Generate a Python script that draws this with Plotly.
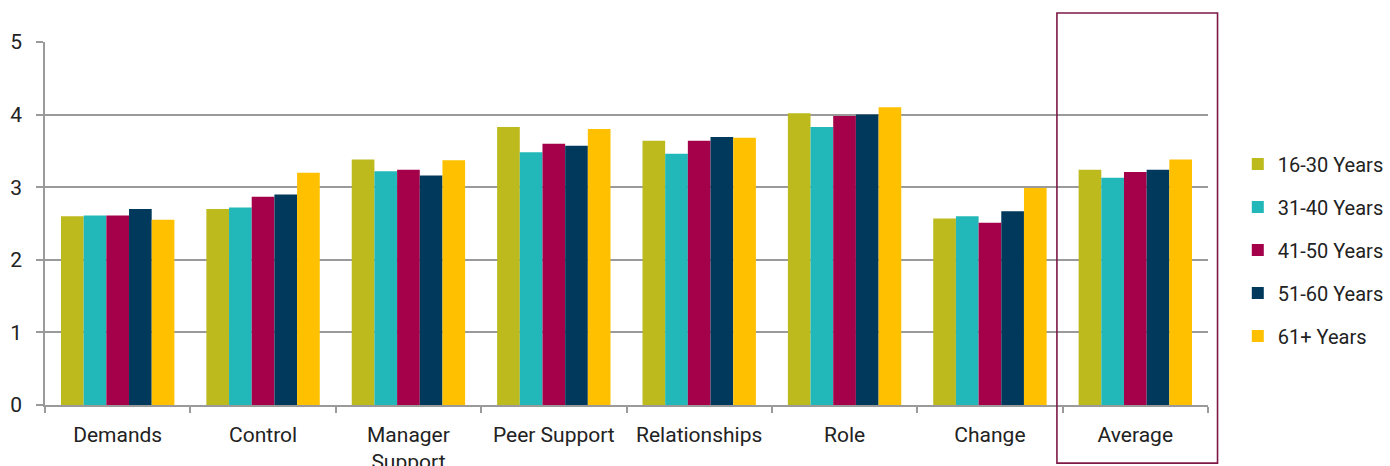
import plotly.graph_objects as go

categories = ["Demands", "Control", "Manager<br>Support", "Peer Support",
              "Relationships", "Role", "Change", "Average"]
age_groups = ["16-30 Years", "31-40 Years", "41-50 Years", "51-60 Years", "61+ Years"]

years_16_30 = [2.60, 2.70, 3.38, 3.83, 3.64, 4.02, 2.57, 3.24]
years_31_40 = [2.61, 2.72, 3.22, 3.48, 3.46, 3.83, 2.60, 3.13]
years_41_50 = [2.61, 2.87, 3.24, 3.60, 3.64, 3.98, 2.51, 3.21]
years_51_60 = [2.70, 2.90, 3.16, 3.57, 3.69, 4.00, 2.67, 3.24]
years_61_plus = [2.55, 3.20, 3.37, 3.80, 3.68, 4.10, 2.99, 3.38]

series = [years_16_30, years_31_40, years_41_50, years_51_60, years_61_plus]
colors = ["#BDBA1E", "#22B7B8", "#A5004A", "#00395B", "#FFC000"]

font_family = "Roboto, Noto Sans, sans-serif"
text_color = "#222222"
grid_color = "#9A9A9A"

fig = go.Figure()
for name, values, color in zip(age_groups, series, colors):
    fig.add_trace(go.Bar(
        x=categories, y=values, name=name,
        marker=dict(color=color, line=dict(width=0)),
        legendgroup=name,
    ))

# Frame highlighting the overall average group
fig.add_shape(
    type="rect", xref="paper", yref="paper",
    x0=0.8701, x1=1.0082, y0=-0.160, y1=1.080,
    line=dict(color="#7E1845", width=1.6),
    fillcolor="rgba(0,0,0,0)", layer="above",
)

fig.update_layout(
    width=1390, height=466,
    margin=dict(l=45, r=182, t=42, b=61),
    paper_bgcolor="white", plot_bgcolor="white",
    barmode="group", bargap=0.22, bargroupgap=0,
    font=dict(family=font_family, size=21, color=text_color),
    showlegend=True,
    legend=dict(
        xref="container", yref="container",
        x=0.8905, y=0.690, xanchor="left", yanchor="top",
        traceorder="grouped", tracegroupgap=14,
        font=dict(size=20, color=text_color),
        itemwidth=30,
    ),
    xaxis=dict(
        type="category", tickson="boundaries", automargin=False,
        ticks="outside", ticklen=6, tickwidth=1.5, tickcolor=grid_color,
        showline=True, linecolor=grid_color, linewidth=1.5,
        showgrid=False,
        tickfont=dict(size=21, color=text_color),
        ticklabelstandoff=10,
    ),
    yaxis=dict(
        range=[0, 5], dtick=1, automargin=False,
        ticks="outside", ticklen=7, tickwidth=1.5, tickcolor=grid_color,
        showline=True, linecolor=grid_color, linewidth=1.5,
        showgrid=True, gridcolor=grid_color, gridwidth=1.5,
        zeroline=False,
        tickfont=dict(size=21, color=text_color),
        ticklabelstandoff=10,
    ),
)

fig.write_html("out.html")
